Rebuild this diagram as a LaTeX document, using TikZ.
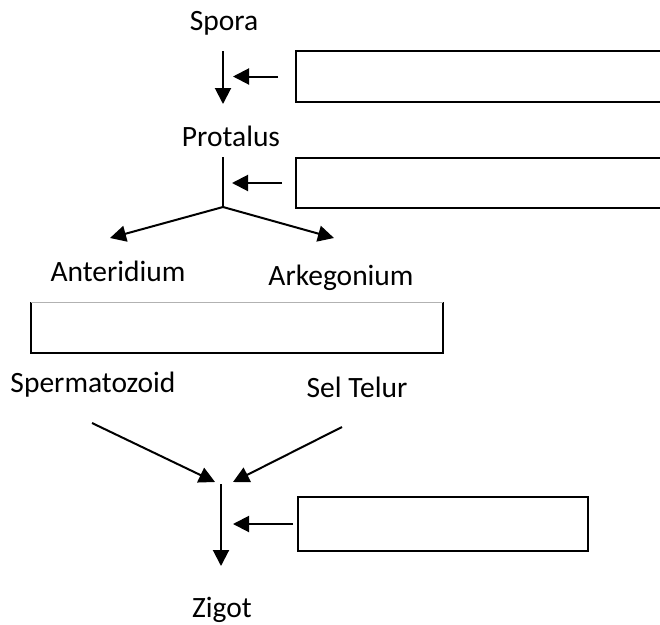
\documentclass[tikz,border=0pt]{standalone}
\usepackage{fontspec}
\setmainfont{Carlito}
\usetikzlibrary{arrows.meta}
\begin{document}
\begin{tikzpicture}[x=1pt,y=-1pt,
  lbl/.style={font=\fontsize{29.5}{35}\selectfont, inner sep=0pt, anchor=base},
  flow/.style={line width=2pt, -{Triangle[length=16pt,width=16pt]}},
  plain/.style={line width=2pt},
  blank/.style={draw, line width=2pt, anchor=north west, inner sep=0pt}]
\useasboundingbox (0,0) rectangle (660,624);
\clip (0,0) rectangle (660,624);

% stage labels
\node[lbl] (spora)    at (224,30)  {Spora};
\node[lbl] (protalus) at (231,146) {Protalus};
\node[lbl] (anter)    at (118,281) {Anteridium};
\node[lbl] (arke)     at (341,285) {Arkegonium};
\node[lbl] (sperm)    at (93,392)  {Spermatozoid};
\node[lbl] (sel)      at (357,397) {Sel Telur};
\node[lbl] (zigot)    at (222,617) {Zigot};

% empty answer boxes
\node[blank, minimum width=400pt, minimum height=51pt] (box1) at (295,50)  {};
\node[blank, minimum width=400pt, minimum height=50pt] (box2) at (295,157) {};
\node[anchor=north west, inner sep=0pt, minimum width=412pt, minimum height=51pt] (box3) at (31,302) {};
\draw[line width=2pt] (box3.north west) -- (box3.south west) -- (box3.south east) -- (box3.north east);
\draw[gray!60, line width=0.8pt] (box3.north west) -- (box3.north east);
\node[blank, minimum width=290pt, minimum height=54pt] (box4) at (297,496) {};

% Spora -> Protalus
\coordinate (s1top) at (223,51);
\coordinate (s1tip) at (223,104);
\draw[flow] (s1top) -- (s1tip);
\draw[flow] ([xshift=-17pt]box1.west) -- ([xshift=-62pt]box1.west);

% Protalus splits into the two organs
\coordinate (p1top) at (223,157);
\coordinate (fork)  at (223,207);
\coordinate (antip) at (110,238);
\coordinate (arkip) at (334,238);
\draw[plain] (p1top) -- (fork);
\draw[flow] (fork) -- (antip);
\draw[flow] (fork) -- (arkip);
\draw[flow] ([xshift=-13pt]box2.west) -- ([xshift=-63pt]box2.west);

% fertilisation
\coordinate (spst) at (92,423);
\coordinate (sptip) at (215,482);
\coordinate (sest) at (342,427);
\coordinate (setip) at (233,482);
\draw[flow] (spst) -- (sptip);
\draw[flow] (sest) -- (setip);
\coordinate (ztop) at (221,484);
\coordinate (ztip) at (221,566);
\draw[flow] (ztop) -- (ztip);
\draw[flow] ([xshift=-4pt]box4.west) -- ([xshift=-64pt]box4.west);
\end{tikzpicture}
\end{document}
